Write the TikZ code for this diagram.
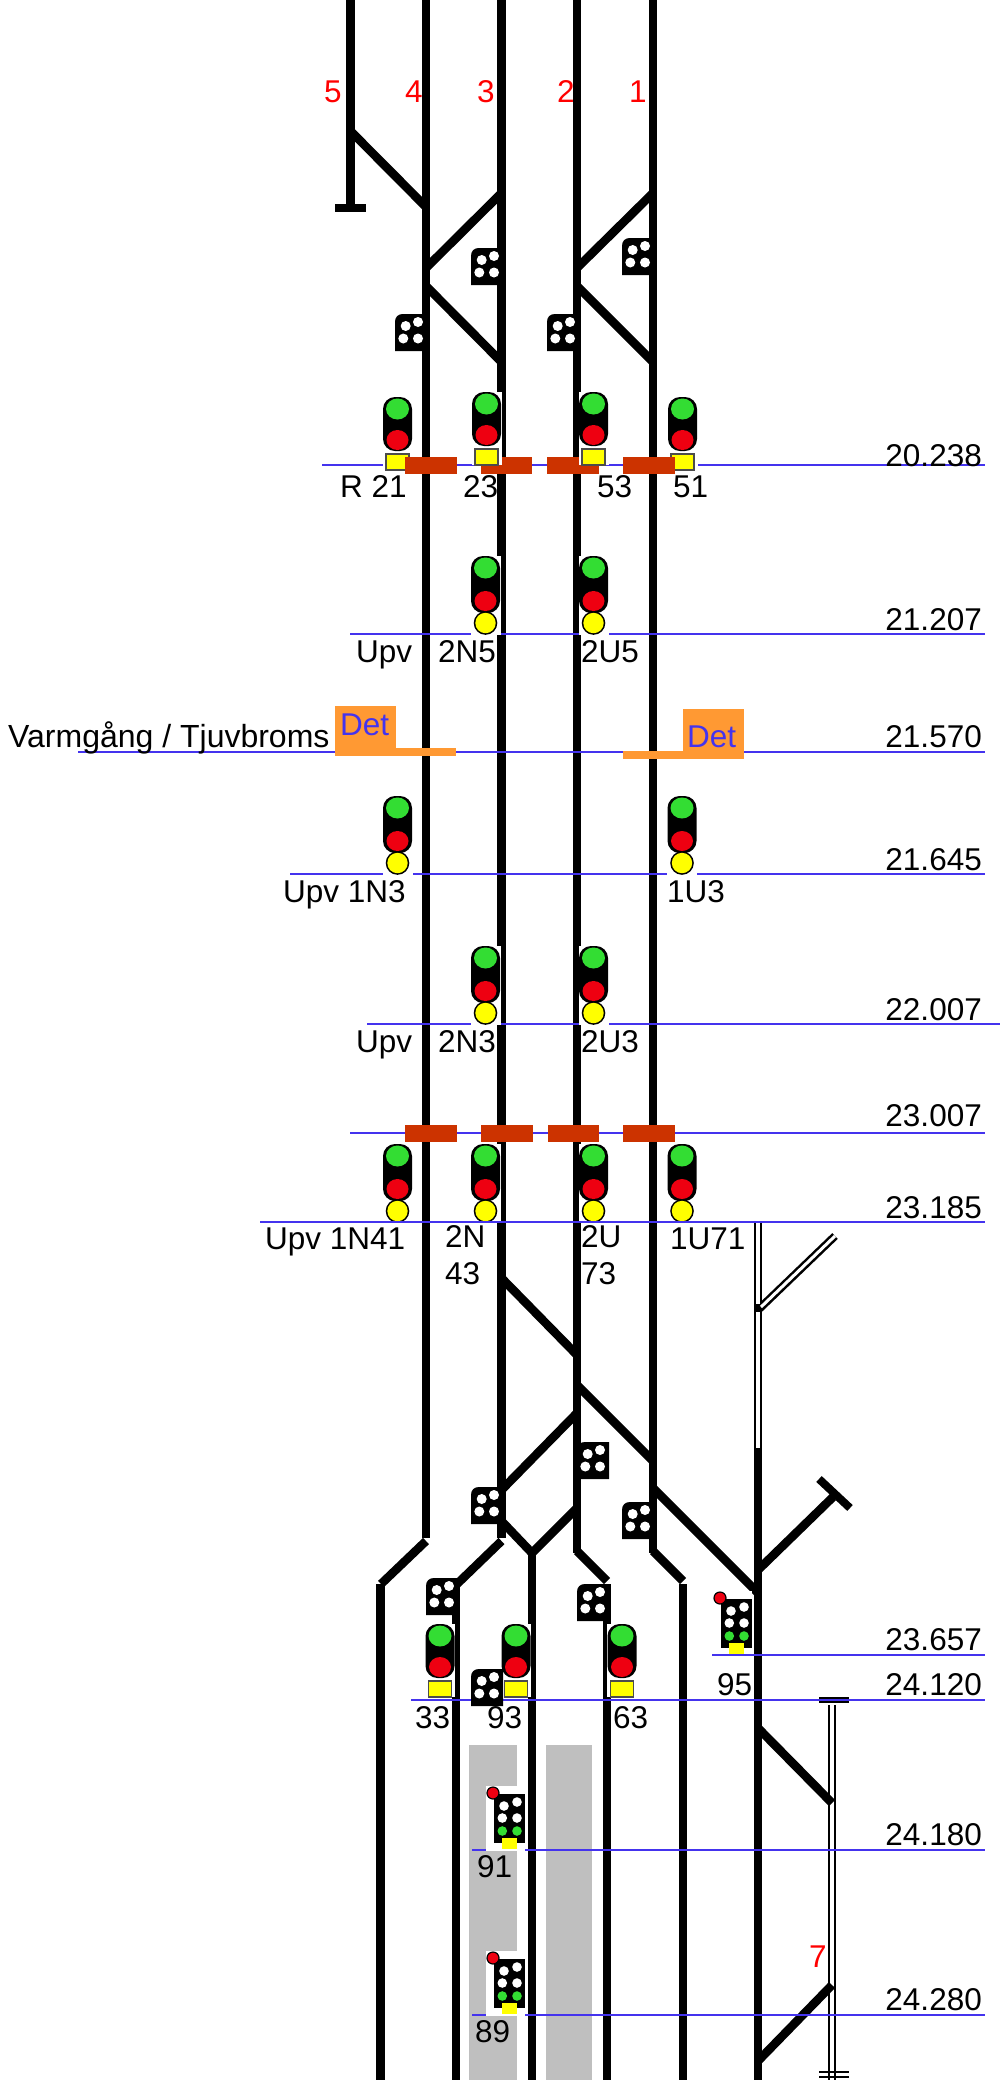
\documentclass[tikz,border=0pt]{standalone}
\usepackage{fontspec}
\setmainfont{Liberation Sans}
\definecolor{kmblue}{HTML}{4433EE}
\definecolor{siggreen}{HTML}{33DD33}
\definecolor{sigred}{HTML}{EE0011}
\definecolor{sigyellow}{HTML}{FFFF00}
\definecolor{brownbar}{HTML}{CC3300}
\definecolor{detorange}{HTML}{FF9933}
\definecolor{platform}{HTML}{BFBFBF}
\tikzset{
  track/.style={line width=8.6pt,black},
  km/.style={line width=2.2pt,kmblue},
  lbl/.style={inner sep=0pt,font=\fontsize{31.5}{32}\selectfont,text=black},
  redlbl/.style={lbl,text=red},
  detlbl/.style={lbl,text=kmblue},
}
% three-lamp signal with yellow circle: centre x, km-line y
\newcommand{\sigA}[2]{%
  \fill[white] ({#1-15},{#2-78}) rectangle ({#1+15},{#2+1});
  \fill[black,rounded corners=12pt] ({#1-14.5},{#2-78}) rectangle ({#1+14.5},{#2-21});
  \fill[siggreen] (#1,{#2-66}) ellipse [x radius=11.5pt,y radius=10.5pt];
  \fill[sigred] (#1,{#2-33}) ellipse [x radius=11pt,y radius=10pt];
  \fill[black] (#1,{#2-11}) circle [radius=11.8pt];
  \fill[sigyellow] (#1,{#2-11}) circle [radius=10.2pt];}
% two-lamp signal with yellow square: centre x, top y
\newcommand{\sigB}[2]{%
  \fill[white] ({#1-15},#2) rectangle ({#1+15},{#2+73});
  \fill[black,rounded corners=12pt] ({#1-14.5},#2) rectangle ({#1+14.5},{#2+54});
  \fill[siggreen] (#1,{#2+12}) ellipse [x radius=11.5pt,y radius=10.5pt];
  \fill[sigred] (#1,{#2+43}) ellipse [x radius=11pt,y radius=10pt];
  \filldraw[fill=sigyellow,draw=black!70,line width=1.2pt] ({#1-11.5},{#2+57}) rectangle ({#1+11.5},{#2+73});}
% four-dot block: left x, top y
\newcommand{\sigC}[2]{%
  \fill[black] ({#1+8},#2) -- ({#1+32},#2) -- ({#1+32},{#2+37}) -- (#1,{#2+37}) -- (#1,{#2+8}) .. controls (#1,{#2+3}) and ({#1+3},#2) .. ({#1+8},#2) -- cycle;
  \fill[white] ({#1+10.7},{#2+12}) circle [radius=5pt];
  \fill[white] ({#1+23},{#2+8}) circle [radius=5pt];
  \fill[white] ({#1+8.3},{#2+24.5}) circle [radius=5pt];
  \fill[white] ({#1+23},{#2+24.5}) circle [radius=5pt];}
% dwarf signal with red dot: left x, top y
\newcommand{\sigD}[2]{%
  \fill[white] (#1,#2) rectangle ({#1+39},{#2+65});
  \fill[black] ({#1+8},{#2+8}) rectangle ({#1+39},{#2+57});
  \filldraw[fill=sigred,draw=black,line width=1.2pt] ({#1+7},{#2+7}) circle [radius=6pt];
  \fill[white] ({#1+18},{#2+20}) circle [radius=4.8pt];
  \fill[white] ({#1+31},{#2+16}) circle [radius=4.8pt];
  \fill[white] ({#1+16.3},{#2+32}) circle [radius=4.8pt];
  \fill[white] ({#1+31},{#2+32}) circle [radius=4.8pt];
  \fill[siggreen] ({#1+16.3},{#2+45}) circle [radius=4.8pt];
  \fill[siggreen] ({#1+31},{#2+45}) circle [radius=4.8pt];
  \fill[sigyellow] ({#1+16},{#2+52}) rectangle ({#1+31},{#2+63});}
\newcommand{\brownbar}[2]{\fill[brownbar] (#1,#2) rectangle ({#1+51.5},{#2+16.5});}
\begin{document}
\begin{tikzpicture}[x=1pt,y=-1pt]
\useasboundingbox (0,0) rectangle (1000,2080);
\fill[white] (0,0) rectangle (1000,2080);
% platforms
\fill[platform] (469,1745) rectangle (517,2080);
\fill[platform] (546,1745) rectangle (592,2080);
% red track numbers (behind the tracks)
\node[redlbl,anchor=base west] (n5) at (324,102) {5};
\node[redlbl,anchor=base west] (n4) at (405,102) {4};
\node[redlbl,anchor=base west] (n3) at (477,102) {3};
\node[redlbl,anchor=base west] (n2) at (557,102) {2};
\node[redlbl,anchor=base west] (n1) at (629,102) {1};
\node[redlbl,anchor=base west] (n7) at (809,1967) {7};
% main tracks
\draw[track] (350.5,0) -- (350.5,208);
\fill[black] (335,204) rectangle (366,212);
\draw[track] (426,0) -- (426,1538);
\draw[track] (501.5,0) -- (501.5,1538);
\draw[track] (577,0) -- (577,1553);
\draw[track] (653,0) -- (653,1553);
\draw[track] (426,1541) -- (381,1584);
\draw[track] (380.5,1584) -- (380.5,2080);
\draw[track] (501.5,1541) -- (457,1584);
\draw[track] (456,1584) -- (456,2080);
\draw[track] (577,1551) -- (607,1581);
\draw[track] (607,1584) -- (607,2080);
\draw[track] (653,1551) -- (683,1581);
\draw[track] (683,1584) -- (683,2080);
\draw[track] (532,1553) -- (532,2080);
\draw[track] (501.5,1521) -- (532,1553) -- (577,1508);
\draw[track] (350.5,131) -- (426,207);
\draw[track] (426,268) -- (501.5,193);
\draw[track] (426,286) -- (501.5,362);
\draw[track] (577,268) -- (653,193);
\draw[track] (577,286) -- (653,362);
\draw[track] (501.5,1278) -- (577,1355);
\draw[track] (577,1385) -- (653,1461);
\draw[track] (577,1413) -- (501.5,1490);
\draw[track] (653,1488) -- (758,1593);
% right-hand tracks
\draw[track] (758,1448) -- (758,2080);
\draw[black,line width=8pt] (758,1222) -- (758,1448);
\draw[black,line width=8pt] (758,1310) -- (835,1236);
\draw[white,line width=3pt] (761,1307) -- (835,1236);
\draw[white,line width=3.4pt] (758,1222) -- (758,1304);
\draw[white,line width=3.4pt] (758,1312) -- (758,1448);
\draw[track] (758,1570) -- (833,1497);
\draw[black,line width=8pt] (819,1479) -- (850,1508);
\fill[black] (819,1697) rectangle (849,1703);
\draw[black,line width=8pt] (832,1705) -- (832,2080);
\draw[white,line width=3.2pt] (832,1705) -- (832,2080);
\draw[black,line width=2pt] (819,2072) -- (849,2072);
\draw[black,line width=2pt] (819,2077) -- (849,2077);
\draw[track] (758,1728) -- (832,1803);
\draw[track] (758,2061) -- (832,1985);
% km lines
\draw[km] (322,465) -- (985,465);
\draw[km] (350,634) -- (985,634);
\draw[km] (78,752) -- (985,752);
\draw[km] (290,874) -- (985,874);
\draw[km] (367,1024) -- (1000,1024);
\draw[km] (350,1133) -- (985,1133);
\draw[km] (411,1700) -- (985,1700);
\draw[km] (472,1850) -- (985,1850);
\draw[km] (472,2015) -- (985,2015);
% signals
\sigB{397.5}{397}
\sigB{682.5}{397}
\brownbar{405}{457}
\brownbar{480.5}{457}
\brownbar{547}{457}
\brownbar{623}{457}
\sigB{486.5}{392}
\sigB{593.5}{392}
\sigA{485.5}{634}
\sigA{593.5}{634}
\sigA{397.5}{874}
\sigA{682}{874}
\sigA{485.5}{1024}
\sigA{593.5}{1024}
\brownbar{405}{1125}
\brownbar{481}{1125}
\brownbar{547.5}{1125}
\brownbar{623}{1125}
\sigA{397.5}{1222}
\sigA{485.5}{1222}
\sigA{593.5}{1222}
\sigA{682}{1222}
\draw[km] (260,1222) -- (985,1222);
\sigB{440}{1624}
\sigB{516}{1624}
\sigB{622}{1624}
\sigD{713}{1591}
\draw[km] (712,1655) -- (985,1655);
\sigD{486}{1786}
\sigD{486}{1951}
\sigC{471}{248}
\sigC{622}{238}
\sigC{395}{314}
\sigC{547}{314}
\sigC{471}{1487}
\sigC{577}{1442}
\sigC{622}{1502}
\sigC{426}{1578}
\sigC{577}{1584}
\sigC{471}{1669}
% detectors
\fill[detorange] (335,706) rectangle (396,756);
\fill[detorange] (396,748) rectangle (456,756);
\fill[detorange] (683,709) rectangle (744,759);
\fill[detorange] (623,751) rectangle (683,759);
\node[detlbl,anchor=base west] (detl) at (340,735) {Det};
\node[detlbl,anchor=base west] (detr) at (687,747) {Det};
% km labels
\foreach \nm/\txt/\by in {k1/20.238/466,k2/21.207/630,k3/21.570/747,k4/21.645/870,k5/22.007/1020,k6/23.007/1126,k7/23.185/1218,k8/23.657/1650,k9/24.120/1695,k10/24.180/1845,k11/24.280/2010}
  \node[lbl,anchor=base east] (\nm) at (982,\by) {\txt};
% signal labels
\node[lbl,anchor=base west] (l1) at (340,497) {R 21};
\node[lbl,anchor=base west] (l2) at (463,497) {23};
\node[lbl,anchor=base west] (l3) at (597,497) {53};
\node[lbl,anchor=base west] (l4) at (673,497) {51};
\node[lbl,anchor=base west] (l5) at (356,662) {Upv};
\node[lbl,anchor=base west] (l6) at (438,662) {2N5};
\node[lbl,anchor=base west] (l7) at (581,662) {2U5};
\node[lbl,anchor=base west,font=\fontsize{32}{32}\selectfont] (l8) at (8,747) {Varmgång / Tjuvbroms};
\node[lbl,anchor=base west] (l9) at (283,902) {Upv 1N3};
\node[lbl,anchor=base west] (l10) at (667,902) {1U3};
\node[lbl,anchor=base west] (l11) at (356,1052) {Upv};
\node[lbl,anchor=base west] (l12) at (438,1052) {2N3};
\node[lbl,anchor=base west] (l13) at (581,1052) {2U3};
\node[lbl,anchor=base west] (l14) at (265,1249) {Upv 1N41};
\node[lbl,anchor=base west] (l15) at (445,1247) {2N};
\node[lbl,anchor=base west] (l16) at (445,1284) {43};
\node[lbl,anchor=base west] (l17) at (581,1247) {2U};
\node[lbl,anchor=base west] (l18) at (581,1284) {73};
\node[lbl,anchor=base west] (l19) at (670,1249) {1U71};
\node[lbl,anchor=base west] (l20) at (415,1728) {33};
\node[lbl,anchor=base west] (l21) at (487,1728) {93};
\node[lbl,anchor=base west] (l22) at (613,1728) {63};
\node[lbl,anchor=base west] (l23) at (717,1695) {95};
\node[lbl,anchor=base west] (l24) at (477,1877) {91};
\node[lbl,anchor=base west] (l25) at (475,2042) {89};
\end{tikzpicture}
\end{document}
